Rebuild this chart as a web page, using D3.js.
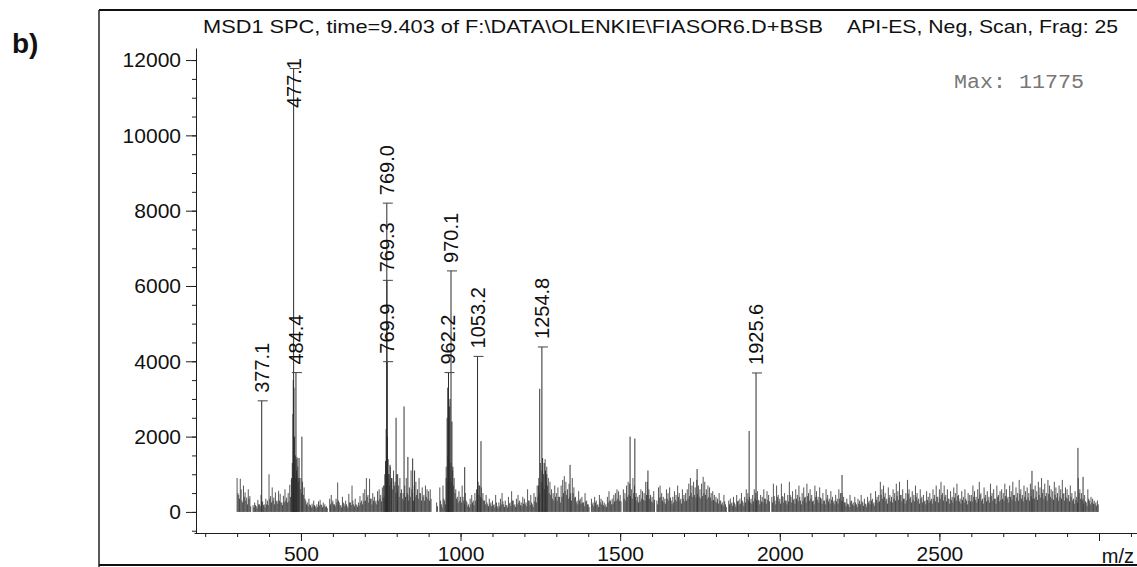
<!DOCTYPE html>
<html>
<head>
<meta charset="utf-8">
<script src="https://cdn.jsdelivr.net/npm/d3@7"></script>
<style>
  html, body { margin: 0; padding: 0; background: #fff; }
  svg { display: block; font-family: "Liberation Sans", Arial, sans-serif; }
</style>
</head>
<body>
<svg id="chart" width="1137" height="567"></svg>
<script>
// ---- text ----
const panelTag = "b)";
const titleLeft = "MSD1 SPC, time=9.403 of F:\\DATA\\OLENKIE\\FIASOR6.D+BSB";
const titleRight = "API-ES, Neg, Scan, Frag: 25";
const maxText = "Max: 11775";
const axisUnit = "m/z";

// ---- labelled peaks ----
const peakLabels    = ["377.1", "477.1", "484.4", "769.0", "769.3", "769.9", "962.2", "970.1", "1053.2", "1254.8", "1925.6"];
const peakMz        = [377.1, 477.1, 484.4, 769.0, 769.3, 769.9, 962.2, 970.1, 1053.2, 1254.8, 1925.6];
const peakIntensity = [2950, 11775, 3700, 8200, 6150, 3990, 3700, 6400, 4130, 4380, 3690];

// ---- other prominent (unlabelled) ions ----
const sideMz = [471, 473, 475, 476, 478, 480, 482, 486, 488, 491, 494, 503,
                760, 763, 765, 767, 771, 773, 776, 779, 784, 798, 803, 823, 835, 850, 856,
                955, 958, 960, 965, 967, 973, 976,
                1013, 1058, 1064,
                1244, 1248, 1257, 1262, 1266, 1270,
                1343, 1531, 1546, 1587, 1741, 1904, 2195, 2790, 2934, 2950];
const sideIntensity = [900, 1300, 2600, 3500, 3300, 2000, 1500, 1100, 1450, 900, 1430, 2000,
                       700, 1000, 1350, 2200, 2000, 1400, 1000, 1250, 900, 2500, 1000, 2800, 1460, 1420, 1100,
                       900, 2500, 3300, 2800, 3000, 2400, 1200,
                       1190, 700, 1880,
                       700, 3270, 1430, 1300, 1100, 1000,
                       1250, 2000, 1950, 1100, 1140, 2150, 980, 1090, 1700, 930];

// ---- background ion signal: sticks every 5 m/z from 300 ----
const noiseStartMz = 300;
const noiseStepMz = 5;
const noise300 = [
  900, 450, 880, 300, 700, 520, 380, 600, 420, 0, 180, 250, 150, 320, 200, 450, 280, 200, 350, 300,
  1000, 420, 650, 380, 520, 300, 560, 480, 250, 430, 600, 380, 500, 720, 850, 1100, 1300, 1400, 1200, 900,
  900, 800, 650, 300, 250, 350, 180, 220, 300, 150, 200, 280, 320, 180, 250, 200, 150, 0, 350, 450,
  300, 200, 350, 780, 250, 180, 400, 220, 300, 150, 480, 250, 700, 200, 350, 180, 250, 420, 300, 500,
  600, 900, 450, 880, 350, 500, 400, 300, 550, 600, 450, 650, 700, 1000, 1350, 1000, 1200, 900, 1100, 800,
  1000, 700, 900, 600, 500, 700, 900, 450, 650, 1100, 500, 700, 800, 600, 900, 500, 650, 450, 700, 600,
  550, 600, 0, 0, 0, 250, 0, 650, 200, 700, 300, 1200, 1500, 1400, 1300, 1100, 900, 600, 400, 550
];
const noise1000 = [
  400, 700, 300, 500, 250, 200, 350, 450, 300, 500, 600, 800, 700, 650, 500, 300, 450, 200, 350, 250,
  300, 200, 450, 150, 250, 350, 500, 200, 300, 180, 400, 250, 550, 300, 200, 350, 450, 300, 250, 400,
  350, 250, 600, 300, 450, 200, 500, 400, 700, 900, 1300, 1100, 1000, 1400, 1200, 900, 800, 600, 500, 700,
  500, 650, 400, 700, 850, 950, 800, 600, 750, 500, 900, 650, 400, 300, 550, 350, 400, 250, 500, 300,
  200, 0, 350, 250, 400, 300, 200, 450, 350, 300, 250, 200, 400, 550, 300, 350, 450, 500, 600, 550,
  450, 0, 600, 500, 700, 800, 750, 600, 900, 700, 500, 400, 450, 600, 550, 500, 800, 800, 600, 450,
  400, 550, 0, 300, 650, 700, 500, 400, 350, 600, 500, 650, 300, 400, 550, 450, 700, 500, 350, 600,
  450, 500, 600, 750, 900, 700, 800, 650, 850, 700, 600, 750, 930, 800, 600, 700, 650, 500, 550, 450,
  400, 350, 500, 300, 250, 450, 200, 0, 300, 350, 250, 400, 200, 450, 300, 350, 500, 250, 400, 600,
  500, 400, 350, 450, 600, 500, 550, 300, 450, 400, 600, 350, 550, 450, 0, 400, 750, 300, 700, 450
];
const noise2000 = [
  350, 750, 400, 500, 300, 450, 800, 400, 550, 350, 600, 450, 700, 300, 500, 650, 400, 750, 500, 600,
  450, 300, 700, 550, 400, 650, 350, 500, 300, 600, 450, 350, 550, 400, 300, 450, 350, 600, 500, 500,
  400, 250, 350, 200, 450, 300, 250, 400, 200, 350, 300, 450, 250, 350, 200, 400, 300, 500, 350, 250,
  550, 400, 450, 800, 600, 700, 500, 350, 650, 450, 400, 600, 500, 750, 550, 800, 450, 600, 350, 500,
  850, 600, 400, 550, 450, 700, 500, 350, 600, 400, 450, 300, 550, 400, 500, 350, 600, 450, 700, 400,
  600, 800, 500, 700, 450, 600, 350, 550, 400, 650, 500, 750, 450, 350, 550, 400, 600, 300, 500, 450,
  450, 700, 550, 400, 600, 800, 500, 350, 650, 450, 550, 400, 750, 500, 600, 350, 700, 450, 550, 600,
  500, 750, 600, 400, 700, 550, 800, 450, 650, 500, 850, 600, 450, 700, 550, 650, 500, 750, 600, 600,
  700, 550, 800, 650, 900, 600, 750, 500, 850, 700, 600, 550, 800, 650, 500, 700, 600, 850, 500, 650,
  600, 450, 700, 500, 350, 550, 400, 900, 600, 500, 350, 450, 250, 600, 300, 400, 350, 300, 250, 300
];
// lower sticks that sit between the ones above (offset by half a step)
const floorOffsetMz = 2.5;
const floor300 = [
  500, 350, 600, 250, 400, 300, 200, 350, 150, 0, 120, 180, 100, 200, 150, 250, 180, 120, 200, 180,
  350, 250, 300, 200, 280, 220, 300, 250, 180, 260, 300, 250, 280, 400, 500, 700, 900, 1000, 800, 600,
  500, 450, 350, 200, 150, 200, 120, 150, 180, 100, 130, 170, 200, 120, 150, 130, 100, 0, 200, 250,
  200, 150, 250, 300, 170, 120, 250, 150, 200, 100, 250, 180, 300, 150, 200, 130, 170, 250, 200, 280,
  300, 400, 250, 350, 200, 300, 250, 200, 300, 350, 280, 380, 400, 600, 900, 700, 800, 600, 700, 500,
  550, 400, 500, 350, 300, 400, 500, 300, 400, 600, 300, 400, 450, 350, 500, 300, 400, 300, 400, 350,
  300, 350, 0, 0, 0, 150, 0, 300, 120, 350, 200, 800, 1000, 900, 800, 700, 500, 350, 250, 300
];
const floor1000 = [
  250, 400, 200, 300, 150, 120, 200, 250, 180, 300, 350, 450, 400, 350, 300, 200, 250, 150, 200, 150,
  180, 120, 250, 100, 150, 200, 280, 130, 180, 120, 220, 150, 300, 180, 130, 200, 250, 180, 150, 220,
  200, 150, 300, 180, 250, 130, 280, 250, 400, 500, 800, 700, 600, 800, 700, 500, 450, 350, 300, 400,
  300, 400, 250, 400, 500, 550, 450, 350, 400, 300, 500, 380, 250, 200, 300, 220, 250, 150, 280, 200,
  130, 0, 200, 150, 250, 180, 130, 250, 200, 180, 150, 130, 250, 300, 200, 220, 280, 300, 350, 300,
  280, 0, 350, 300, 400, 450, 420, 350, 500, 400, 300, 250, 280, 350, 320, 300, 450, 450, 350, 280,
  250, 320, 0, 200, 380, 400, 300, 250, 220, 350, 300, 380, 200, 250, 320, 280, 400, 300, 220, 350,
  280, 300, 350, 420, 500, 400, 450, 380, 480, 400, 350, 420, 500, 450, 350, 400, 380, 300, 320, 280,
  250, 220, 300, 200, 160, 280, 130, 0, 200, 220, 160, 250, 130, 280, 200, 220, 300, 160, 250, 350,
  300, 250, 220, 280, 350, 300, 320, 200, 280, 250, 350, 220, 320, 280, 0, 250, 420, 200, 400, 280
];
const floor2000 = [
  220, 420, 250, 300, 200, 280, 450, 250, 320, 220, 350, 280, 400, 200, 300, 380, 250, 420, 300, 350,
  280, 200, 400, 320, 250, 380, 220, 300, 200, 350, 280, 220, 320, 250, 200, 280, 220, 350, 300, 300,
  250, 160, 220, 130, 280, 200, 160, 250, 130, 220, 200, 280, 160, 220, 130, 250, 200, 300, 220, 160,
  320, 250, 280, 450, 350, 400, 300, 220, 380, 280, 250, 350, 300, 420, 320, 450, 280, 350, 220, 300,
  480, 350, 250, 320, 280, 400, 300, 220, 350, 250, 280, 200, 320, 250, 300, 220, 350, 280, 400, 250,
  350, 450, 300, 400, 280, 350, 220, 320, 250, 380, 300, 420, 280, 220, 320, 250, 350, 200, 300, 280,
  280, 400, 320, 250, 350, 450, 300, 220, 380, 280, 320, 250, 420, 300, 350, 220, 400, 280, 320, 350,
  300, 420, 350, 250, 400, 320, 450, 280, 380, 300, 480, 350, 280, 400, 320, 380, 300, 420, 350, 350,
  400, 320, 450, 380, 500, 350, 420, 300, 480, 400, 350, 320, 450, 380, 300, 400, 350, 480, 300, 380,
  350, 280, 400, 300, 220, 320, 250, 500, 350, 300, 220, 280, 160, 350, 200, 250, 220, 200, 160, 200
];

// ---- axes ----
const yMajorTicks = [0, 2000, 4000, 6000, 8000, 10000, 12000];
const yMinorTicks = d3.range(-500, 12001, 500);
const xMinorTicks = d3.range(200, 3101, 100);
const xMajorTicks = [500, 1000, 1500, 2000, 2500, 3000];
const xTickLabels = [500, 1000, 1500, 2000, 2500];

const svg = d3.select("#chart");
const ink = "#1e1e1e";

const x = d3.scaleLinear().domain([165, 3119]).range([194, 1137]);
const y = d3.scaleLinear().domain([-560, 12320]).range([533, 48]);

// outer frame
svg.append("line").attr("x1", 99).attr("x2", 1137).attr("y1", 10).attr("y2", 10)
  .attr("stroke", "#111").attr("stroke-width", 2);
svg.append("line").attr("x1", 99).attr("x2", 99).attr("y1", 10).attr("y2", 567)
  .attr("stroke", "#222").attr("stroke-width", 1.5);

// panel tag
svg.append("text").attr("x", 12).attr("y", 53).attr("font-size", 28).attr("font-weight", "bold")
  .attr("fill", "#111").text(panelTag);

// title
svg.append("text").attr("x", 203).attr("y", 33).attr("font-size", 19).attr("fill", "#111")
  .attr("textLength", 620).attr("lengthAdjust", "spacingAndGlyphs").text(titleLeft);
svg.append("text").attr("x", 847).attr("y", 33).attr("font-size", 19).attr("fill", "#111")
  .attr("textLength", 271).attr("lengthAdjust", "spacingAndGlyphs").text(titleRight);

// max annotation
svg.append("text").attr("x", 954).attr("y", 88).attr("font-size", 20)
  .attr("font-family", "'Liberation Mono', 'Courier New', monospace")
  .attr("fill", "#777").attr("textLength", 130).attr("lengthAdjust", "spacingAndGlyphs").text(maxText);

// y axis
const yMinor = svg.append("g").attr("transform", "translate(196,0)")
  .call(d3.axisLeft(y).tickValues(yMinorTicks).tickSize(4).tickFormat(""));
yMinor.select(".domain").remove();
const yMajor = svg.append("g").attr("transform", "translate(196,0)")
  .call(d3.axisLeft(y).tickValues(yMajorTicks).tickSize(10).tickSizeOuter(0).tickPadding(5)
    .tickFormat(d3.format("d")));
[yMinor, yMajor].forEach(g => {
  g.selectAll("line, path").attr("stroke", ink);
  g.selectAll("text").attr("font-size", 21).attr("font-family", "'Liberation Sans', Arial, sans-serif").attr("fill", "#111");
});

// x axis
const xMinor = svg.append("g").attr("transform", "translate(0,533)")
  .call(d3.axisBottom(x).tickValues(xMinorTicks).tickSize(4).tickFormat(""));
xMinor.select(".domain").remove();
const xMajor = svg.append("g").attr("transform", "translate(0,533)")
  .call(d3.axisBottom(x).tickValues(xMajorTicks).tickSize(8).tickSizeOuter(0).tickPadding(5)
    .tickFormat(d => xTickLabels.includes(d) ? String(d) : ""));
[xMinor, xMajor].forEach(g => {
  g.selectAll("line, path").attr("stroke", ink);
  g.selectAll("text").attr("font-size", 21).attr("font-family", "'Liberation Sans', Arial, sans-serif").attr("fill", "#111");
});

svg.append("text").attr("x", 1134).attr("y", 563).attr("text-anchor", "end")
  .attr("font-size", 20).attr("fill", "#111").text(axisUnit);

// bottom frame line
svg.append("line").attr("x1", 99).attr("x2", 1137).attr("y1", 565).attr("y2", 565)
  .attr("stroke", "#111").attr("stroke-width", 2);

// spectrum sticks
const noise = noise300.concat(noise1000, noise2000)
  .map((v, i) => ({ mz: noiseStartMz + i * noiseStepMz, v }))
  .filter(d => d.v > 0);
const floorSticks = floor300.concat(floor1000, floor2000)
  .map((v, i) => ({ mz: noiseStartMz + floorOffsetMz + i * noiseStepMz, v }))
  .filter(d => d.v > 0);
const side = sideMz.map((mz, i) => ({ mz, v: sideIntensity[i] }));
const peaks = peakMz.map((mz, i) => ({ mz, v: peakIntensity[i], label: peakLabels[i] }));

const plot = svg.append("g");
function sticks(data, color, width) {
  plot.append("g").selectAll("line").data(data).join("line")
    .attr("x1", d => x(d.mz)).attr("x2", d => x(d.mz))
    .attr("y1", y(0)).attr("y2", d => y(d.v))
    .attr("stroke", color).attr("stroke-width", width);
}
sticks(floorSticks, "#3a3a3a", 0.9);
sticks(noise, "#444", 0.9);
sticks(side, "#333", 1);
sticks(peaks, "#2a2a2a", 1);

// peak labels: vertical text just above each apex, kept inside the plot top
const labelTop = 58;
const gap = 8;
const labels = svg.append("g");
peaks.forEach(d => {
  const px = x(d.mz);
  const apex = y(d.v);
  labels.append("line").attr("x1", px - 4).attr("x2", px + 6).attr("y1", apex).attr("y2", apex)
    .attr("stroke", "#444").attr("stroke-width", 1);
  const t = labels.append("text").attr("font-size", 20).attr("fill", "#111")
    .attr("dy", "0.35em").text(d.label);
  const len = t.node().getComputedTextLength();
  let bottom = apex - gap;
  if (bottom - len < labelTop) bottom = labelTop + len;
  t.attr("transform", `translate(${px},${bottom}) rotate(-90)`);
});
</script>
</body>
</html>
